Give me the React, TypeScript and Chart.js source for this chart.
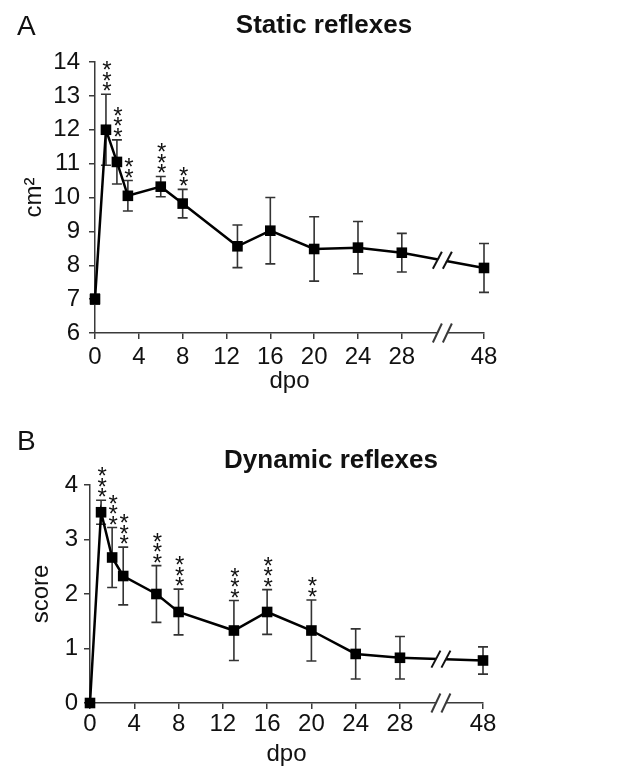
import React, { useEffect, useRef } from "react";
import { Chart, registerables } from "chart.js";
Chart.register(...registerables);

// ---------- data ----------
const dpo = [0, 1, 2, 3, 6, 8, 13, 16, 20, 24, 28, 48];
const xTickDpo = [0, 4, 8, 12, 16, 20, 24, 28, 48];
const xTickLabels = ["0", "4", "8", "12", "16", "20", "24", "28", "48"];

const staticMean = [7.0, 12.0, 11.05, 10.05, 10.32, 9.82, 8.56, 9.02, 8.48, 8.52, 8.37, 7.92];
const staticErr = [0.15, 1.05, 0.65, 0.45, 0.3, 0.42, 0.63, 0.98, 0.95, 0.77, 0.57, 0.72];
const staticStars = ["", "***", "***", "**", "***", "**", "", "", "", "", "", ""];
const staticYTicks = [6, 7, 8, 9, 10, 11, 12, 13, 14];

const dynamicMean = [0, 3.5, 2.67, 2.33, 2.0, 1.67, 1.33, 1.67, 1.33, 0.9, 0.83, 0.78];
const dynamicErr = [0, 0.22, 0.55, 0.53, 0.52, 0.42, 0.55, 0.41, 0.56, 0.46, 0.39, 0.25];
const dynamicStars = ["", "***", "***", "***", "***", "***", "***", "***", "**", "", "", ""];
const dynamicYTicks = [0, 1, 2, 3, 4];

// ---------- axis break (28 -> 48 compressed) ----------
const LAST_REGULAR = 28;
const GAP_FACTOR = 0.375;
const BREAK_POS = 31.7;
const toAxis = (d: number) => (d <= LAST_REGULAR ? d : LAST_REGULAR + (d - LAST_REGULAR) * GAP_FACTOR);

const FAMILY = "'Liberation Sans', Arial, Helvetica, sans-serif";
const AXIS = "#3a3a3a";
const TEXT = "#111";
const W = 623;

type Panel = {
  letter: string;
  title: string;
  titleX: number;
  titleBase: number;
  letterBase: number;
  yTitle: string;
  yTitlePad: number;
  mean: number[];
  err: number[];
  stars: string[];
  yTicks: number[];
  canvasH: number;
  area: { left: number; right: number; top: number; bottom: number };
  xTickPad: number;
  yTickPad: number;
  xTitlePad: number;
};

function buildChart(canvas: HTMLCanvasElement, p: Panel) {
  const points = dpo.map((d, i) => ({ x: toAxis(d), y: p.mean[i] }));

  const decor = {
    id: "decor" + p.letter,
    beforeDatasetsDraw(chart: any) {
      const { ctx } = chart;
      const x = chart.scales.x;
      const y = chart.scales.y;
      ctx.save();
      ctx.strokeStyle = "#333";
      ctx.lineWidth = 1.6;
      dpo.forEach((d, i) => {
        const e = p.err[i];
        if (!e) return;
        const xp = x.getPixelForValue(toAxis(d));
        const y1 = y.getPixelForValue(p.mean[i] + e);
        const y2 = y.getPixelForValue(p.mean[i] - e);
        ctx.beginPath();
        ctx.moveTo(xp, y1);
        ctx.lineTo(xp, y2);
        ctx.moveTo(xp - 5, y1);
        ctx.lineTo(xp + 5, y1);
        ctx.moveTo(xp - 5, y2);
        ctx.lineTo(xp + 5, y2);
        ctx.stroke();
      });
      ctx.restore();
    },
    afterDraw(chart: any) {
      const { ctx } = chart;
      const x = chart.scales.x;
      const y = chart.scales.y;
      ctx.save();
      // panel letter
      ctx.fillStyle = TEXT;
      ctx.font = `28px ${FAMILY}`;
      ctx.textAlign = "left";
      ctx.textBaseline = "alphabetic";
      ctx.fillText(p.letter, 17, p.letterBase);
      // title
      ctx.font = `bold 26px ${FAMILY}`;
      ctx.textAlign = "center";
      ctx.fillText(p.title, p.titleX, p.titleBase);
      // stars
      ctx.font = `24px ${FAMILY}`;
      dpo.forEach((d, i) => {
        const s = p.stars[i];
        if (!s) return;
        const xp = x.getPixelForValue(toAxis(d)) + 1;
        const top = y.getPixelForValue(p.mean[i] + p.err[i]);
        for (let k = 0; k < s.length; k++) {
          const cy = top - 9 - k * 10.5;
          ctx.fillText(s[k], xp, cy + 14);
        }
      });
      // break marks
      const xb = x.getPixelForValue(BREAK_POS);
      const slash = (cx: number, cy: number, h: number) => {
        ctx.beginPath();
        ctx.moveTo(cx - 4.5, cy + h);
        ctx.lineTo(cx + 4.5, cy - h);
        ctx.stroke();
      };
      const gap = (cy: number, h: number) => {
        ctx.fillStyle = "#fff";
        ctx.beginPath();
        ctx.moveTo(xb - 5 - 4.5, cy + h);
        ctx.lineTo(xb - 5 + 4.5, cy - h);
        ctx.lineTo(xb + 5 + 4.5, cy - h);
        ctx.lineTo(xb + 5 - 4.5, cy + h);
        ctx.closePath();
        ctx.fill();
      };
      // on data line
      const xa = x.getPixelForValue(toAxis(dpo[10]));
      const xc = x.getPixelForValue(toAxis(dpo[11]));
      const ya = y.getPixelForValue(p.mean[10]);
      const yc = y.getPixelForValue(p.mean[11]);
      const yl = ya + ((xb - xa) / (xc - xa)) * (yc - ya);
      gap(yl, 4);
      ctx.strokeStyle = "#111";
      ctx.lineWidth = 2;
      slash(xb - 5, yl, 8.5);
      slash(xb + 5, yl, 8.5);
      // on axis
      const yAxis = y.bottom;
      gap(yAxis, 3);
      ctx.strokeStyle = AXIS;
      slash(xb - 5, yAxis, 9.5);
      slash(xb + 5, yAxis, 9.5);
      ctx.restore();
    },
  };

  return new Chart(canvas, {
    type: "line",
    data: {
      datasets: [
        {
          data: points,
          borderColor: "#000",
          borderWidth: 2.5,
          pointStyle: "rect",
          pointRadius: 7.5,
          pointBackgroundColor: "#000",
          pointBorderColor: "#000",
          pointBorderWidth: 0,
          tension: 0,
          clip: false,
        } as any,
      ],
    },
    options: {
      responsive: true,
      maintainAspectRatio: false,
      animation: false,
      events: [],
      layout: { padding: { top: p.area.top, left: 0, right: W - p.area.right, bottom: 0 } },
      plugins: { legend: { display: false }, tooltip: { enabled: false }, title: { display: false } },
      scales: {
        x: {
          type: "linear",
          min: 0,
          max: toAxis(48),
          afterBuildTicks: (s: any) => {
            s.ticks = xTickDpo.map((d) => ({ value: toAxis(d) }));
          },
          afterFit: (s: any) => {
            s.height = p.canvasH - p.area.bottom;
          },
          grid: { drawOnChartArea: false, drawTicks: true, tickLength: 6, color: AXIS, lineWidth: 1.5 },
          border: { color: AXIS, width: 1.5 },
          ticks: {
            padding: p.xTickPad,
            color: TEXT,
            maxRotation: 0,
            autoSkip: false,
            font: { family: FAMILY, size: 24 },
            callback: (_v: any, i: number) => xTickLabels[i],
          },
          title: {
            display: true,
            text: "dpo",
            color: TEXT,
            font: { family: FAMILY, size: 24 },
            padding: { top: 0, bottom: p.xTitlePad },
          },
        },
        y: {
          type: "linear",
          min: p.yTicks[0],
          max: p.yTicks[p.yTicks.length - 1],
          afterBuildTicks: (s: any) => {
            s.ticks = p.yTicks.map((v) => ({ value: v }));
          },
          afterFit: (s: any) => {
            s.width = p.area.left;
          },
          grid: { drawOnChartArea: false, drawTicks: true, tickLength: 6, color: AXIS, lineWidth: 1.5 },
          border: { color: AXIS, width: 1.5 },
          ticks: {
            padding: p.yTickPad,
            color: TEXT,
            font: { family: FAMILY, size: 24 },
            callback: (v: any) => String(v),
          },
          title: {
            display: true,
            text: p.yTitle,
            color: TEXT,
            font: { family: FAMILY, size: 24 },
            padding: { top: p.yTitlePad, bottom: 0 },
          },
        },
      },
    } as any,
    plugins: [decor],
  });
}

const panelA: Panel = {
  letter: "A",
  title: "Static reflexes",
  titleX: 324,
  titleBase: 33,
  letterBase: 35,
  yTitle: "cm²",
  yTitlePad: 20,
  mean: staticMean,
  err: staticErr,
  stars: staticStars,
  yTicks: staticYTicks,
  canvasH: 400,
  area: { left: 95, right: 484, top: 62, bottom: 333 },
  xTickPad: 4,
  yTickPad: 9,
  xTitlePad: 4,
};

const panelB: Panel = {
  letter: "B",
  title: "Dynamic reflexes",
  titleX: 331,
  titleBase: 68,
  letterBase: 50,
  yTitle: "score",
  yTitlePad: 27,
  mean: dynamicMean,
  err: dynamicErr,
  stars: dynamicStars,
  yTicks: dynamicYTicks,
  canvasH: 369,
  area: { left: 90, right: 483, top: 85, bottom: 303 },
  xTickPad: 1,
  yTickPad: 6,
  xTitlePad: 0,
};

function PanelChart({ panel }: { panel: Panel }) {
  const ref = useRef<HTMLCanvasElement | null>(null);
  useEffect(() => {
    if (!ref.current) return;
    const chart = buildChart(ref.current, panel);
    return () => chart.destroy();
  }, [panel]);
  return (
    <div style={{ position: "relative", width: W, height: panel.canvasH }}>
      <canvas ref={ref} />
    </div>
  );
}

export default function App() {
  return (
    <div style={{ position: "absolute", left: 0, top: 0, width: W, height: 769, background: "#fff" }}>
      <PanelChart panel={panelA} />
      <PanelChart panel={panelB} />
    </div>
  );
}
